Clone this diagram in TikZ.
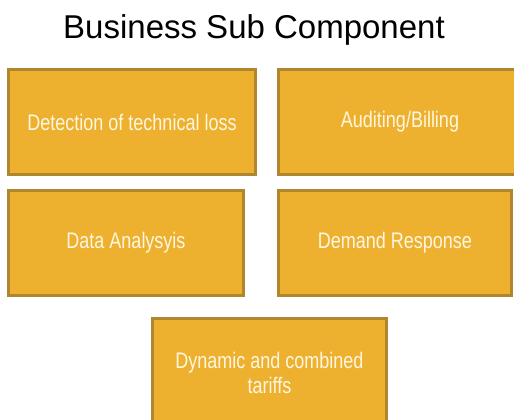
\documentclass[tikz,border=0pt]{standalone}
\usepackage{fontspec}
\setmainfont{Liberation Sans}
\newfontfamily\narrowfont[FakeStretch=0.8]{Liberation Sans}
\definecolor{boxfill}{HTML}{EDB12F}
\definecolor{boxline}{HTML}{B0872F}
\definecolor{boxtext}{HTML}{FFF6E0}

\begin{document}
\begin{tikzpicture}[x=1pt,y=-1pt]
\tikzstyle{subbox}=[draw=boxline, line width=3pt, fill=boxfill, text=boxtext, inner sep=0pt, align=center, font=\narrowfont\fontsize{22.5}{25}\selectfont]
\useasboundingbox (0,0) rectangle (514,420);
\clip (0,0) rectangle (514,420);
\node (title) at (254,30) {\fontsize{33}{40}\selectfont Business Sub Component};
\node [subbox, minimum width=247pt, minimum height=105pt] (loss) at (132,122) {Detection of technical  loss};
\node [subbox, minimum width=243pt, minimum height=105pt] (billing) at (400,122) {Auditing/Billing};
\node [subbox, minimum width=235pt, minimum height=105pt] (analysis) at (126,243) {Data Analysyis};
\node [subbox, minimum width=233pt, minimum height=105pt] (demand) at (395,243) {Demand  Response};
\node [subbox, minimum width=234pt, minimum height=109pt] (tariffs) at (269.5,373) {Dynamic and combined\\tariffs};
\end{tikzpicture}
\end{document}
